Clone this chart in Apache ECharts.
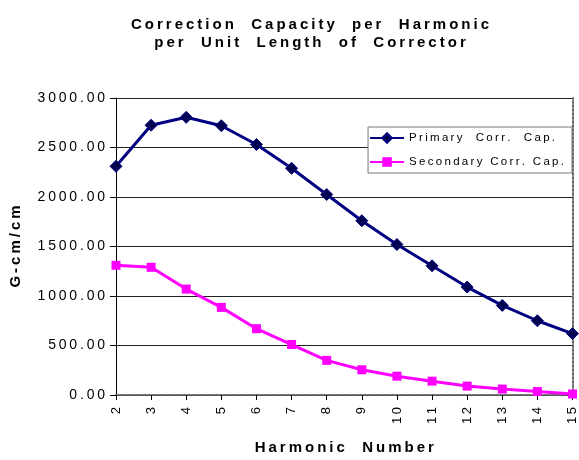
<!DOCTYPE html>
<html>
<head>
<meta charset="utf-8">
<script src="https://cdn.jsdelivr.net/npm/echarts@6/dist/echarts.min.js"></script>
<style>
html,body{margin:0;padding:0;background:#fff}
#main{width:579px;height:460px}
</style>
</head>
<body>
<div id="main"></div>
<script>
// 数据
var harmonics = ['2','3','4','5','6','7','8','9','10','11','12','13','14','15'];
var primaryCap = [2310, 2725, 2805, 2720, 2530, 2290, 2025, 1760, 1520, 1305, 1090, 905, 750, 620];
var secondaryCap = [1310, 1290, 1070, 885, 670, 510, 350, 255, 190, 140, 90, 60, 35, 10];
var seriesNames = ['Primary  Corr.  Cap.', 'Secondary Corr. Cap.'];

var myChart = echarts.init(document.getElementById('main'));

var font = 'Liberation Sans, Arial, sans-serif';

// 字间距：在每个字符之间插入细空格
function sp(s) {
    return String(s).split('').join('\u2009');
}

var option = {
    backgroundColor: '#fff',
    title: {
        text: sp('Correction  Capacity  per  Harmonic') + '\n' + sp('per  Unit  Length  of  Corrector'),
        left: 305,
        textAlign: 'center',
        top: 11,
        textStyle: {
            fontFamily: font,
            fontSize: 15,
            fontWeight: 'bold',
            color: '#000',
            lineHeight: 18
        }
    },
    legend: {
        orient: 'vertical',
        right: 7,
        top: 127,
        padding: [5, 8, 5, 1],
        itemGap: 12,
        itemWidth: 34,
        itemHeight: 12,
        backgroundColor: '#fff',
        borderColor: '#777',
        borderWidth: 1,
        borderRadius: 0,
        formatter: function (name) { return sp(name); },
        textStyle: { fontFamily: font, fontSize: 11.5, color: '#000' },
        data: seriesNames
    },
    grid: {
        left: 111,
        right: 2,
        top: 98,
        bottom: 63,
        containLabel: false
    },
    xAxis: [{
        type: 'category',
        data: harmonics,
        boundaryGap: false,
        name: sp('Harmonic  Number'),
        nameLocation: 'middle',
        nameGap: 45,
        nameTextStyle: { fontFamily: font, fontSize: 15, fontWeight: 'bold', color: '#000' },
        axisLine: { lineStyle: { color: '#000', width: 1 } },
        axisTick: { show: true, length: 5, lineStyle: { color: '#000' } },
        axisLabel: {
            rotate: 90, fontFamily: font, fontSize: 13, color: '#000', margin: 12,
            formatter: function (v) { return sp(v); }
        },
        splitLine: { show: false }
    }, {
        type: 'category',
        data: harmonics,
        boundaryGap: false,
        position: 'top',
        axisLine: { lineStyle: { color: '#666', type: 'dotted', width: 2 } },
        axisTick: { show: false },
        axisLabel: { show: false }
    }],
    yAxis: [{
        type: 'value',
        min: 0,
        max: 3000,
        interval: 500,
        name: sp('G-cm/cm'),
        nameLocation: 'middle',
        nameGap: 93,
        nameTextStyle: { fontFamily: font, fontSize: 15, fontWeight: 'bold', color: '#000' },
        axisLine: { show: true, lineStyle: { color: '#000', width: 1 } },
        axisTick: { show: true, length: 6, lineStyle: { color: '#000' } },
        axisLabel: {
            fontFamily: font, fontSize: 14, color: '#000', margin: 11,
            formatter: function (v) { return sp(v.toFixed(2)); }
        },
        splitLine: { show: true, lineStyle: { color: '#222', width: 1 } }
    }, {
        type: 'value',
        min: 0,
        max: 3000,
        interval: 500,
        position: 'right',
        axisLine: { show: true, lineStyle: { color: '#666', type: 'dotted', width: 2 } },
        axisTick: { show: false },
        axisLabel: { show: false },
        splitLine: { show: false }
    }],
    series: [{
        name: seriesNames[0],
        type: 'line',
        data: primaryCap,
        symbol: 'diamond',
        symbolSize: 12,
        lineStyle: { color: '#000080', width: 3 },
        itemStyle: { color: '#000050', borderColor: '#000080', borderWidth: 1 },
        z: 3
    }, {
        name: seriesNames[1],
        type: 'line',
        data: secondaryCap,
        symbol: 'rect',
        symbolSize: 9,
        lineStyle: { color: '#ff00ff', width: 3 },
        itemStyle: { color: '#ff00ff' },
        z: 2
    }]
};

myChart.setOption(option);
</script>
</body>
</html>
